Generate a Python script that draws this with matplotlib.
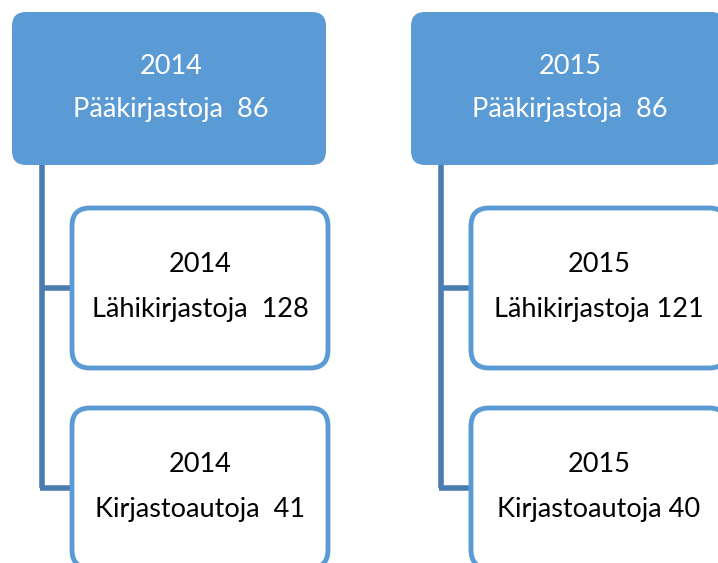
import matplotlib.pyplot as plt
from matplotlib.patches import FancyBboxPatch

# data
years = ["2014", "2015"]
main_labels = ["Pääkirjastoja  86", "Pääkirjastoja  86"]
child_labels = [["Lähikirjastoja  128", "Kirjastoautoja  41"],
                ["Lähikirjastoja 121", "Kirjastoautoja 40"]]

fill_blue = "#5B9BD5"
line_blue = "#4A7DAF"

fig = plt.figure(figsize=(7.18, 5.63), dpi=100)
ax = fig.add_axes([0, 0, 1, 1])
ax.set_xlim(0, 718)
ax.set_ylim(563, 0)
ax.axis('off')

col_x = [12, 411]          # left edge of parent box per column
box_w = 314
child_off = 60
child_w = 256
child_tops = [208, 408]
child_h = 160
fs = 19.5

for i, year in enumerate(years):
    x0 = col_x[i]
    # connector
    vx = x0 + 30
    ax.plot([vx, vx], [165, child_tops[-1] + child_h / 2], color=line_blue,
            lw=4, solid_capstyle='butt', zorder=1)
    for t in child_tops:
        ax.plot([vx - 2, x0 + child_off], [t + child_h / 2] * 2, color=line_blue,
                lw=4, solid_capstyle='butt', zorder=1)

    # parent box
    r = 14
    ax.add_patch(FancyBboxPatch((x0 + r, 12 + r), box_w - 2 * r, 153 - 2 * r,
                                boxstyle="round,pad=%d" % r, fc=fill_blue,
                                ec=fill_blue, lw=0, zorder=2))
    cx = x0 + box_w / 2 + 2
    ax.text(cx, 66, year, ha='center', va='center', color='white',
            fontsize=fs, family='Lato', zorder=3)
    ax.text(cx, 110, main_labels[i], ha='center', va='center', color='white',
            fontsize=fs, family='Lato', zorder=3)

    # child boxes
    for j, t in enumerate(child_tops):
        r = 18
        cx0 = x0 + child_off
        ax.add_patch(FancyBboxPatch((cx0 + r, t + r), child_w - 2 * r, child_h - 2 * r,
                                    boxstyle="round,pad=%d" % r, fc='white',
                                    ec=fill_blue, lw=3.5, zorder=2))
        ccx = cx0 + child_w / 2
        ax.text(ccx, t + 57, year, ha='center', va='center', color='black',
                fontsize=fs, family='Lato', zorder=3)
        ax.text(ccx, t + 101, child_labels[i][j], ha='center', va='center',
                color='black', fontsize=fs, family='Lato', zorder=3)

fig.savefig("out.png", dpi=100)
